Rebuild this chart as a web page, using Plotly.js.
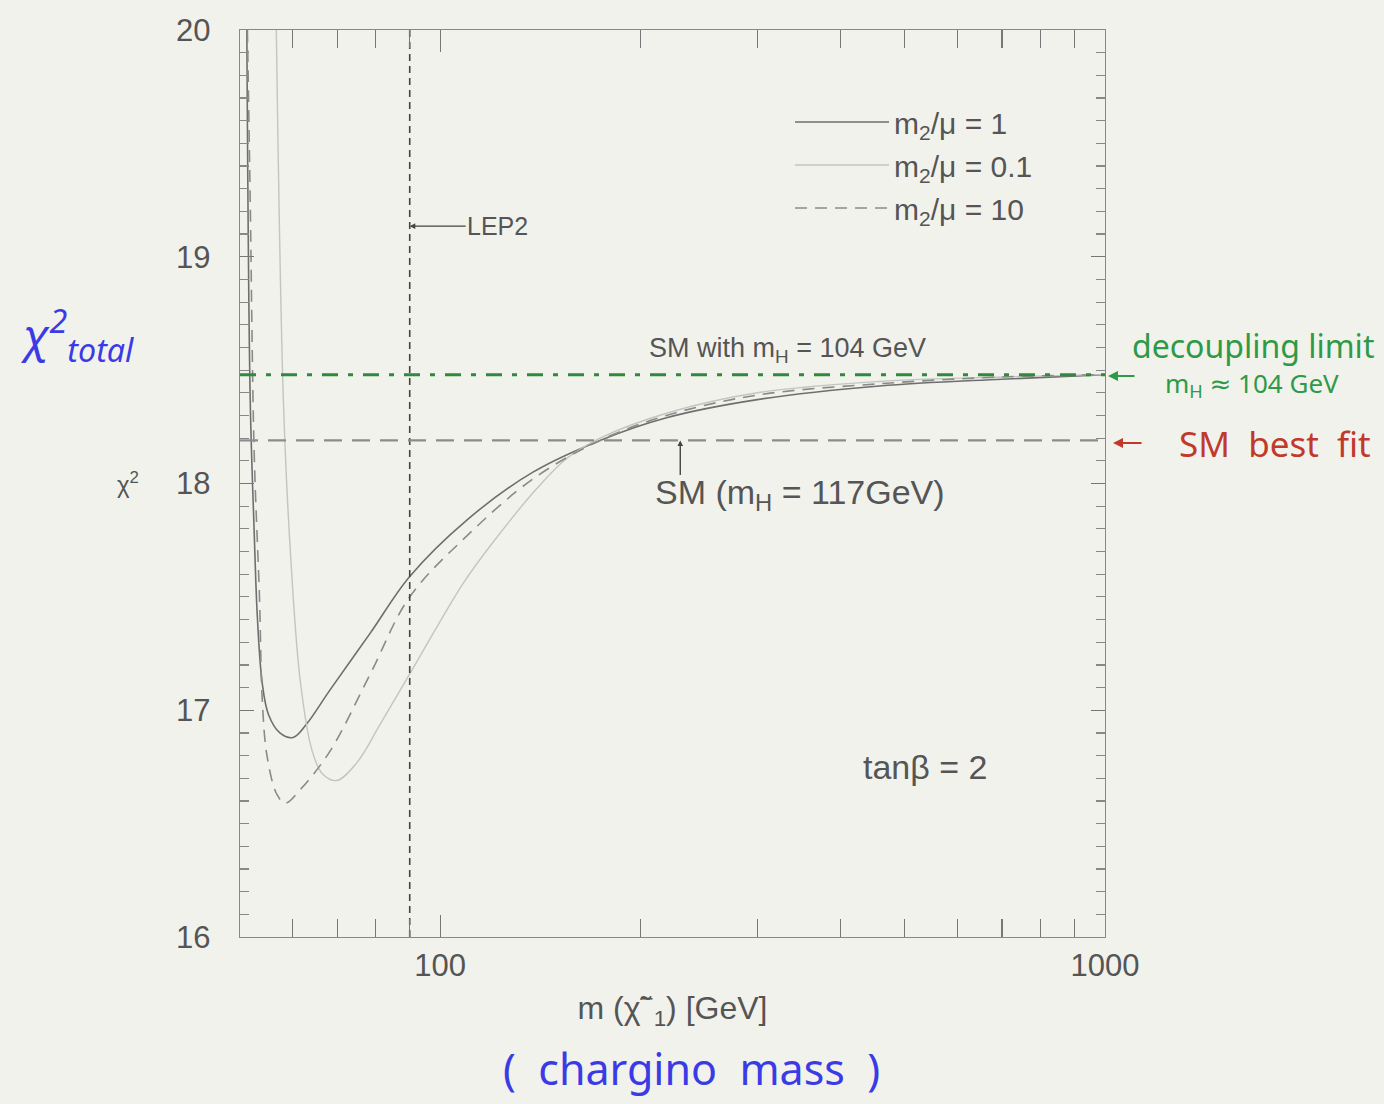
<!DOCTYPE html>
<html>
<head>
<meta charset="utf-8">
<script src="https://cdn.plot.ly/plotly-3.0.1.min.js"></script>
<style>html,body{margin:0;padding:0;background:#f2f2ec;}</style>
</head>
<body>
<div id="chart" style="width:1384px;height:1104px;"></div>
<script>
// chargino mass [GeV] and chi^2 for m2/mu = 1 (solid)
const mass_r1 = [51.2, 51.8, 52.5, 53.1, 54.0, 55.2, 57.4, 60.1, 63, 68.3, 78.5, 90, 109.8, 137.9, 174, 219, 300, 458, 700, 1000];
const chi2_r1 = [20, 18.37, 17.8, 17.41, 17.12, 16.98, 16.9, 16.88, 16.94, 17.09, 17.34, 17.59, 17.84, 18.05, 18.19, 18.29, 18.37, 18.43, 18.46, 18.48];
// m2/mu = 0.1 (light)
const mass_r01 = [56.7, 58.1, 59.5, 61.6, 64.2, 66.5, 69.9, 75, 81.3, 90, 99, 108.3, 120, 140, 155, 174, 219, 300, 458, 700, 1000];
const chi2_r01 = [20, 18.37, 17.71, 17.13, 16.82, 16.72, 16.69, 16.77, 16.94, 17.16, 17.37, 17.56, 17.74, 17.98, 18.11, 18.2, 18.31, 18.4, 18.45, 18.47, 18.48];
// m2/mu = 10 (dashed)
const mass_r10 = [51.3, 51.8, 52.5, 53.5, 54.0, 54.9, 56.8, 58.5, 61.6, 68.3, 78.5, 90, 109.8, 137.9, 174, 219, 300, 458, 700, 1000];
const chi2_r10 = [20, 19.25, 18.15, 17.49, 17.05, 16.8, 16.63, 16.59, 16.65, 16.82, 17.16, 17.5, 17.77, 18.02, 18.19, 18.30, 18.39, 18.44, 18.47, 18.48];

const legendNames = ['m<sub>2</sub>/μ = 1', 'm<sub>2</sub>/μ = 0.1', 'm<sub>2</sub>/μ = 10'];
const xRange = [50, 1000];
const yRange = [16, 20];
const xTickVals = [100, 1000];
const xTickText = ['100', '1000'];
const yTickVals = [16, 17, 18, 19, 20];

const LEP2_LIMIT = 90;          // GeV
const LEP2_LABEL_Y = 19.135;
const CHI2_DECOUPLING = 18.48;  // SM with mH = 104 GeV
const CHI2_SM_BEST = 18.19;     // SM (mH = 117 GeV)

const grey = '#555';
const fontMain = 'Liberation Sans, Arial, sans-serif';
const fontHand = 'Noto Sans, DejaVu Sans, sans-serif';

// plot area in pixels: used only to place the notes
const L = 240, R = 1105, T = 30, B = 937;
const px = p => (p - L) / (R - L);
const py = p => 1 - (p - T) / (B - T);

const traces = [
  {x: mass_r1, y: chi2_r1, mode: 'lines', name: legendNames[0], legendgroup: 'a',
   line: {color: '#6e6e6e', width: 1.6, shape: 'spline', smoothing: 1}},
  {x: mass_r01, y: chi2_r01, mode: 'lines', name: legendNames[1], legendgroup: 'b',
   line: {color: '#c4c4c0', width: 1.4, shape: 'spline', smoothing: 1}},
  {x: mass_r10, y: chi2_r10, mode: 'lines', name: legendNames[2], legendgroup: 'c',
   line: {color: '#8a8a8a', width: 1.6, dash: '12px,8px', shape: 'spline', smoothing: 1}},
  {x: [LEP2_LIMIT, LEP2_LIMIT], y: yRange, mode: 'lines', showlegend: false, hoverinfo: 'skip',
   line: {color: '#444', width: 1.6, dash: '7px,5px'}},
  {x: xRange, y: [CHI2_DECOUPLING, CHI2_DECOUPLING], mode: 'lines', showlegend: false, hoverinfo: 'skip',
   line: {color: '#2e8b3e', width: 3, dash: '16px,10px,5px,10px'}},
  {x: xRange, y: [CHI2_SM_BEST, CHI2_SM_BEST], mode: 'lines', showlegend: false, hoverinfo: 'skip',
   line: {color: '#8c8c8c', width: 2.2, dash: '18px,10px'}}
];

const lg = Math.log10;
const C = {xanchor: 'center', yanchor: 'middle', showarrow: false};
const annotations = [
  {x: lg(LEP2_LIMIT), y: LEP2_LABEL_Y, xref: 'x', yref: 'y', text: 'LEP2', showarrow: true,
   ax: 88, ay: 0, arrowhead: 2, arrowsize: 0.8, arrowwidth: 1.4, arrowcolor: '#444',
   font: {family: fontMain, size: 25, color: grey}},
  Object.assign({x: lg(332.7), y: 18.59, xref: 'x', yref: 'y', text: 'SM with m<sub>H</sub> = 104 GeV',
   font: {family: fontMain, size: 27, color: grey}}, C),
  {x: lg(229.7), y: CHI2_SM_BEST, xref: 'x', yref: 'y', text: '', showarrow: true,
   ax: 0, ay: 36, arrowhead: 2, arrowsize: 0.8, arrowwidth: 1.4, arrowcolor: '#444'},
  Object.assign({x: lg(347.6), y: 17.95, xref: 'x', yref: 'y', text: 'SM (m<sub>H</sub> = 117GeV)',
   font: {family: fontMain, size: 34, color: grey}}, C),
  Object.assign({x: lg(536.4), y: 16.75, xref: 'x', yref: 'y', text: 'tanβ = 2',
   font: {family: fontMain, size: 34, color: grey}}, C),
  Object.assign({x: px(128), y: py(483), xref: 'paper', yref: 'paper', text: 'χ<sup>2</sup>',
   font: {family: fontMain, size: 24, color: grey}}, C),
  // handwritten notes
  Object.assign({x: px(77), y: py(335), xref: 'paper', yref: 'paper', text: '<i>χ<sup>2</sup><sub>total</sub></i>',
   font: {family: fontHand, size: 46, color: '#3b3be6'}}, C),
  Object.assign({x: px(1253), y: py(345), xref: 'paper', yref: 'paper', text: 'decoupling limit',
   font: {family: fontHand, size: 32, color: '#2e9a48'}}, C),
  Object.assign({x: px(1252), y: py(384), xref: 'paper', yref: 'paper', text: 'm<sub>H</sub> ≈ 104 GeV',
   font: {family: fontHand, size: 26, color: '#2e9a48'}}, C),
  {x: px(1108), y: py(376), xref: 'paper', yref: 'paper', text: '', showarrow: true,
   ax: 28, ay: 0, arrowhead: 2, arrowsize: 1, arrowwidth: 2, arrowcolor: '#2e9a48'},
  {x: px(1113), y: py(443), xref: 'paper', yref: 'paper', text: '', showarrow: true,
   ax: 30, ay: 0, arrowhead: 2, arrowsize: 1, arrowwidth: 2, arrowcolor: '#c0392b'},
  Object.assign({x: px(1275), y: py(443), xref: 'paper', yref: 'paper', text: 'SM  best  fit',
   font: {family: fontHand, size: 35, color: '#c0392b'}}, C),
  Object.assign({x: px(691), y: py(1068), xref: 'paper', yref: 'paper', text: '(  chargino  mass  )',
   font: {family: fontHand, size: 43, color: '#3b3be6'}}, C)
];

const layout = {
  width: 1384, height: 1104,
  paper_bgcolor: '#f2f2ec', plot_bgcolor: '#f2f2ec',
  margin: {l: L, r: 1384 - R, t: T, b: 1104 - B},
  font: {family: fontMain, color: grey},
  showlegend: true,
  legend: {x: px(790), y: py(96), xanchor: 'left', yanchor: 'top', bgcolor: 'rgba(0,0,0,0)',
           font: {family: fontMain, size: 30, color: grey}, itemwidth: 94, tracegroupgap: 1},
  xaxis: {type: 'log', range: [lg(xRange[0]), lg(xRange[1])], tickvals: xTickVals, ticktext: xTickText,
          ticks: 'inside', ticklen: 22, tickwidth: 1.2, tickcolor: '#777', mirror: 'allticks',
          showline: true, linecolor: '#888', linewidth: 1.2, showgrid: false, zeroline: false,
          ticklabelstandoff: 1,
          tickfont: {family: fontMain, size: 31, color: grey},
          minor: {tickvals: [60, 70, 80, 90, 200, 300, 400, 500, 600, 700, 800, 900], ticks: 'inside', ticklen: 18, tickcolor: '#777', showgrid: false},
          title: {text: 'm (χ̃<sup>−</sup><sub>1</sub>) [GeV]', standoff: 14, font: {family: fontMain, size: 32, color: grey}}},
  yaxis: {range: yRange, tickvals: yTickVals, ticks: 'inside', ticklen: 14, tickwidth: 1.2, tickcolor: '#777',
          mirror: 'allticks', showline: true, linecolor: '#888', linewidth: 1.2, showgrid: false, zeroline: false,
          ticklabelstandoff: 22,
          tickfont: {family: fontMain, size: 31, color: grey},
          minor: {dtick: 0.1, ticks: 'inside', ticklen: 9, tickcolor: '#888', showgrid: false}},
  annotations: annotations
};

Plotly.newPlot('chart', traces, layout, {displayModeBar: false, staticPlot: true});
</script>
</body>
</html>
